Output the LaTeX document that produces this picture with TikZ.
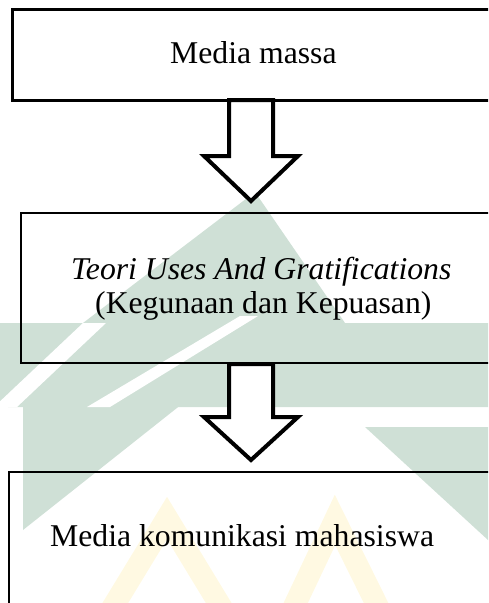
\documentclass[tikz,border=0pt]{standalone}
\usepackage{fontspec}
\setmainfont{Liberation Serif}
\definecolor{wmgreen}{RGB}{207,224,214}
\definecolor{wmyellow}{RGB}{255,249,226}
\begin{document}
\begin{tikzpicture}[x=1pt,y=-1pt,
  font=\fontsize{31.7}{36}\selectfont,
  boxthick/.style={draw, line width=2.6pt, rectangle, inner sep=0pt, anchor=north west},
  boxthin/.style={draw, line width=2.1pt, rectangle, inner sep=0pt, anchor=north west},
  txt/.style={inner sep=0pt, anchor=base west},
  blockarrow/.style={draw, fill=white, line width=4pt, line join=miter, miter limit=10},
  wm/.style={fill=wmgreen},
  wmw/.style={fill=white},
  wmy/.style={draw=wmyellow, line width=22pt, line join=miter}
]
\useasboundingbox (0,0) rectangle (488,603);
\clip (0,0) rectangle (488,603);
% ---- watermark (faint logo) ----
\fill[wm] (255,192) -- (345,323) -- (488,323) -- (488,407) -- (0,407) -- (0,323) -- (83,323) -- cycle;
\fill[wm] (23,400) -- (23,530) -- (187,400) -- cycle;
\fill[wm] (365,427) -- (488,427) -- (488,540) -- cycle;
\fill[wmw] (83,323) -- (106,323) -- (17,407) -- (-6,407) -- cycle;
\fill[wmw] (87,407) -- (110,407) -- (258,316) -- (240,316) -- cycle;
\fill[wmw] (0,407) -- (8,407) -- (8,603) -- (0,603) -- cycle;
\draw[wmy] (108,615) -- (167,518) -- (226,615);
\draw[wmy] (290,615) -- (335,520) -- (382,615);
% ---- boxes ----
\node[boxthick, minimum width=500pt, minimum height=91pt] (b1) at (11,8) {};
\node[boxthin, minimum width=500pt, minimum height=150pt] (b2) at (20,212) {};
\node[boxthin, minimum width=500pt, minimum height=160pt] (b3) at (8,471) {};
% ---- texts ----
\node[txt] (t1) at (170,63.5) {Media massa};
\node[txt] (t2) at (71,279) {\textit{Teori Uses And Gratifications}};
\node[txt] (t3) at (95,313) {(Kegunaan dan Kepuasan)};
\node[txt] (t4) at (50,546.5) {Media komunikasi mahasiswa};
% ---- block arrows ----
\coordinate (a1) at (251,100);
\draw[blockarrow] (a1) ++(-22,0) -- ++(0,56) -- ++(-25,0) -- (251,201) -- (298,156) -- ++(-25,0) -- ++(0,-56) -- cycle;
\coordinate (a2) at (251,364);
\draw[blockarrow] (a2) ++(-22,0) -- ++(0,53) -- ++(-25,0) -- (251,460) -- (298,417) -- ++(-25,0) -- ++(0,-53) -- cycle;
\end{tikzpicture}
\end{document}
